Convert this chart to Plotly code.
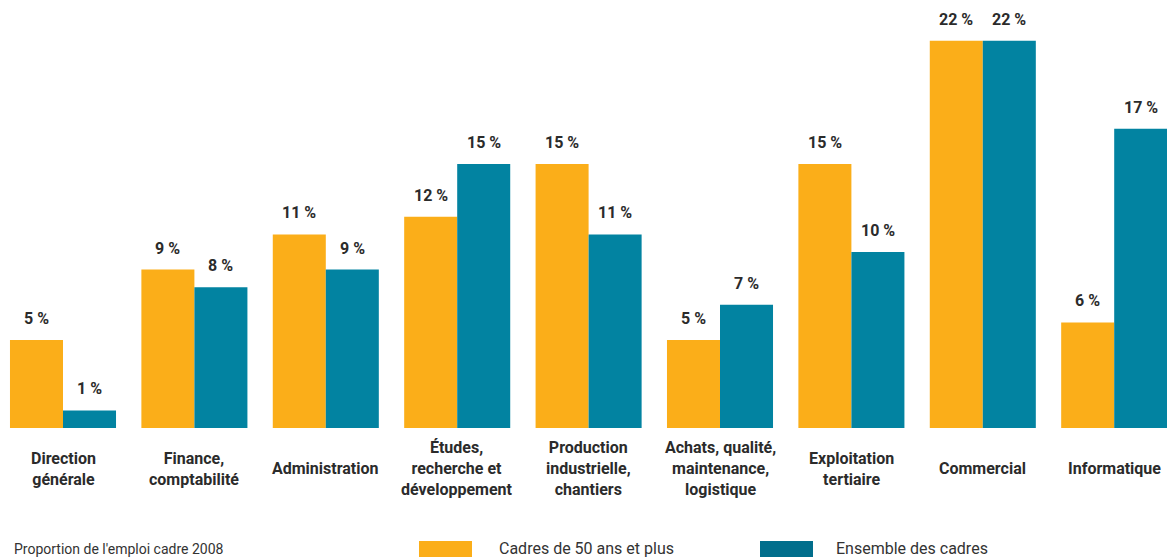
import plotly.graph_objects as go

categories = ["Direction<br>générale", "Finance,<br>comptabilité", "Administration",
              "Études,<br>recherche et<br>développement", "Production<br>industrielle,<br>chantiers",
              "Achats, qualité,<br>maintenance,<br>logistique", "Exploitation<br>tertiaire",
              "Commercial", "Informatique"]
cadres_50 = [5, 9, 11, 12, 15, 5, 15, 22, 6]
ensemble = [1, 8, 9, 15, 11, 7, 10, 22, 17]
series_names = ["Cadres de 50 ans et plus", "Ensemble des cadres"]

ORANGE = "#FBAE19"
TEAL = "#0283A1"
TEAL_LEG = "#016E8C"
TXT = "#2b2b2b"
FONT = "Roboto"

W, H = 1167, 557
BASE = 428  # pixel of baseline
bw = 0.4035
xs = list(range(len(categories)))

fig = go.Figure()
fig.add_trace(go.Bar(x=xs, y=cadres_50, width=bw, offset=-bw, marker=dict(color=ORANGE, line_width=0),
                     name=series_names[0], showlegend=False))
fig.add_trace(go.Bar(x=xs, y=ensemble, width=bw, offset=0, marker=dict(color=TEAL, line_width=0),
                     name=series_names[1], showlegend=False))

ann = []
for i, (a, b) in enumerate(zip(cadres_50, ensemble)):
    ann.append(dict(x=i - bw / 2, y=a, xref="x", yref="y", text=f"{a} %", showarrow=False,
                    yanchor="bottom", yshift=10, font=dict(family=FONT, size=16, color=TXT, weight="bold")))
    ann.append(dict(x=i + bw / 2, y=b, xref="x", yref="y", text=f"{b} %", showarrow=False,
                    yanchor="bottom", yshift=10, font=dict(family=FONT, size=16, color=TXT, weight="bold")))
    ann.append(dict(x=i, y=-(469 - BASE) / BASE, xref="x", yref="paper", text=categories[i], showarrow=False,
                    yanchor="middle", font=dict(family=FONT, size=16, color=TXT, weight="bold")))

def py(p):
    return (BASE - p) / BASE

# legend
shapes = []
for x0, col, txt, tx in [(419, ORANGE, series_names[0], 497), (760, TEAL_LEG, series_names[1], 834)]:
    shapes.append(dict(type="rect", xref="paper", yref="paper", x0=x0 / W, x1=(x0 + 53) / W,
                       y0=py(541), y1=py(575), fillcolor=col, line_width=0))
    ann.append(dict(x=tx / W, y=py(548), xref="paper", yref="paper", text=txt, showarrow=False,
                    xanchor="left", yanchor="middle", font=dict(family=FONT, size=16, color="#333333")))

ann.append(dict(x=12 / W, y=py(549), xref="paper", yref="paper", text="Proportion de l'emploi cadre 2008",
                showarrow=False, xanchor="left", yanchor="middle", font=dict(family=FONT, size=14, color="#333333")))

fig.update_layout(
    width=W, height=H, margin=dict(l=0, r=0, t=0, b=H - BASE, pad=0),
    paper_bgcolor="white", plot_bgcolor="white",
    xaxis=dict(range=[-63 / 131.4, (W - 63) / 131.4], visible=False, fixedrange=True),
    yaxis=dict(range=[0, BASE / 17.6], visible=False, fixedrange=True),
    annotations=ann, shapes=shapes, barmode="overlay",
)
fig.write_html("out.html")
